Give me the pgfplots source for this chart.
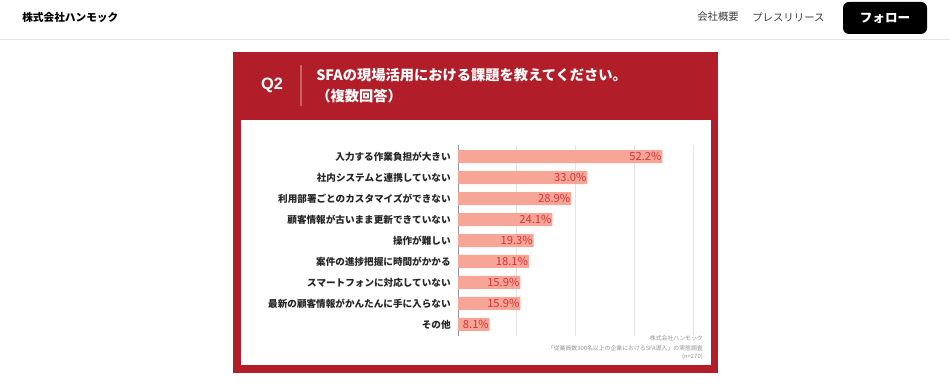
\documentclass[border=0pt]{standalone}
\usepackage{pgfplots}
\pgfplotsset{compat=1.18}
\usepackage{fontspec}
\setmainfont{Noto Sans CJK JP}
\newfontfamily\lat{Liberation Sans}
\definecolor{boxred}{RGB}{177,30,41}
\definecolor{divred}{RGB}{205,95,102}
\definecolor{barsal}{RGB}{246,165,151}
\definecolor{valred}{RGB}{214,52,58}
\definecolor{gridg}{RGB}{228,228,228}
\definecolor{axg}{RGB}{150,150,150}
\definecolor{navg}{RGB}{60,60,60}
\definecolor{srcg}{RGB}{150,150,150}
\begin{document}
\begin{tikzpicture}
\begin{scope}[x=0.75pt,y=0.75pt]
% page
\fill[white] (0,0) rectangle (950,388);
% header
\node[anchor=west,inner sep=0,font=\fontsize{8}{9}\selectfont\bfseries] at (22,371) {株式会社ハンモック};
\node[anchor=west,inner sep=0,font=\fontsize{7.8}{9}\selectfont,text=navg] at (697,371) {会社概要};
\node[anchor=west,inner sep=0,font=\fontsize{7.8}{9}\selectfont,text=navg] at (752,371) {プレスリリース};
\fill[black,rounded corners=4.5] (843,354) rectangle (927,386);
\node[inner sep=0,font=\fontsize{9.4}{10}\selectfont\bfseries,text=white] at (885,370) {フォロー};
\fill[gridg] (0,347.5) rectangle (950,348.5);
% red box
\fill[boxred] (233,15) rectangle (718,336);
\fill[white] (240.5,23) rectangle (710.5,268);
\node[inner sep=0,font=\fontsize{12.3}{13}\selectfont\bfseries,text=white] at (272,303) {{\lat Q2}};
\draw[divred,line width=0.8pt] (301,323) -- (301,282);
\node[anchor=west,inner sep=0,font=\fontsize{10.7}{12}\selectfont\bfseries,text=white] at (316,313) {SFAの現場活用における課題を教えてください。};
\node[anchor=west,inner sep=0,font=\fontsize{10.7}{12}\selectfont\bfseries,text=white] at (316,292) {（複数回答）};
% source
\node[anchor=east,inner sep=0,font=\fontsize{4.4}{5}\selectfont,text=srcg] at (703,50) {株式会社ハンモック};
\node[anchor=east,inner sep=0,font=\fontsize{4.4}{5}\selectfont,text=srcg] at (703,40) {「従業員数300名以上の企業におけるSFA導入」の実態調査};
\node[anchor=east,inner sep=0,font=\fontsize{4.4}{5}\selectfont,text=srcg] at (703,31) {(n=270)};
\end{scope}
\begin{axis}[
  at={(343.5pt,39pt)}, anchor=south west,
  scale only axis, width=176.25pt, height=143.25pt,
  xbar, bar width=9.75pt,
  xmin=0, xmax=60, ymin=-0.55, ymax=8.55,
  y dir=reverse,
  axis line style={draw=none},
  xtick={15,30,45,60}, xticklabels={},
  xmajorgrids, grid style={gridg,line width=0.6pt},
  major tick length=0pt,
  extra x ticks={0}, extra x tick labels={},
  extra x tick style={grid style={axg,line width=0.6pt}},
  ytick={0,...,8},
  yticklabels={入力する作業負担が大きい,社内システムと連携していない,利用部署ごとのカスタマイズができない,顧客情報が古いまま更新できていない,操作が難しい,案件の進捗把握に時間がかかる,スマートフォンに対応していない,最新の顧客情報がかんたんに手に入らない,その他},
  yticklabel style={font=\fontsize{7.2}{8}\selectfont\bfseries,text=black!85,xshift=-2pt},
  point meta=x,
  nodes near coords={\pgfmathprintnumber[assume math mode=true,fixed,fixed zerofill,precision=1]{\pgfplotspointmeta}\%},
  nodes near coords style={anchor=east,inner sep=0.5pt,font=\fontsize{8.4}{9}\selectfont,text=valred},
]
\addplot[fill=barsal,draw=none] coordinates {(52.2,0) (33.0,1) (28.9,2) (24.1,3) (19.3,4) (18.1,5) (15.9,6) (15.9,7) (8.1,8)};
\end{axis}
\end{tikzpicture}
\end{document}
